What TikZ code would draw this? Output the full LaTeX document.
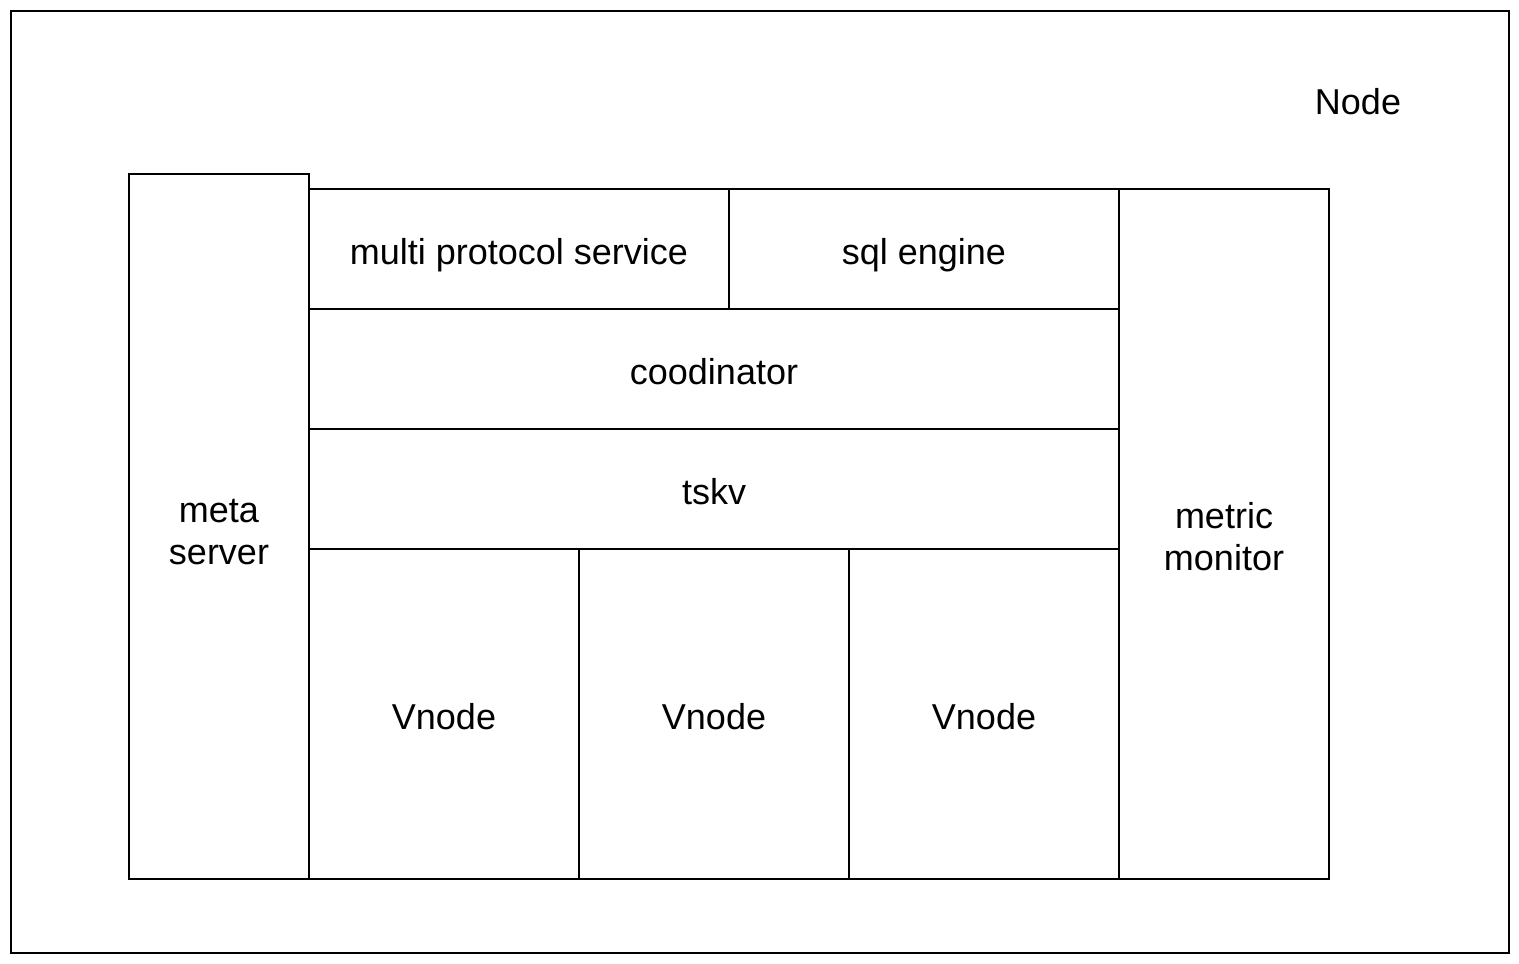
\documentclass[tikz,border=0pt]{standalone}
\usepackage{fontspec}
\setmainfont{Liberation Sans}
\begin{document}
\begin{tikzpicture}[x=1pt,y=-1pt,
  box/.style={draw=black, line width=2pt, fill=white, anchor=north west, inner sep=0pt},
  lbl/.style={font=\fontsize{36}{42}\selectfont, inner sep=0pt, text height=0.75em, text depth=0.25em},
  lbl2/.style={font=\fontsize{36}{42}\selectfont, inner sep=0pt, align=center}]
\useasboundingbox (0,0) rectangle (1519,964);
\node[box, minimum width=1498pt, minimum height=942pt] (outer) at (10,10) {};
\node[lbl] (nodelbl) at (1358,112) {Node};
\node[box, minimum width=180pt, minimum height=705pt] (meta) at (128,173) {};
\node[box, minimum width=420pt, minimum height=120pt] (mps) at (308,188) {};
\node[box, minimum width=390pt, minimum height=120pt] (sql) at (728,188) {};
\node[box, minimum width=810pt, minimum height=120pt] (coord) at (308,308) {};
\node[box, minimum width=810pt, minimum height=120pt] (tskv) at (308,428) {};
\node[box, minimum width=270pt, minimum height=330pt] (v1) at (308,548) {};
\node[box, minimum width=270pt, minimum height=330pt] (v2) at (578,548) {};
\node[box, minimum width=270pt, minimum height=330pt] (v3) at (848,548) {};
\node[box, minimum width=210pt, minimum height=690pt] (metric) at (1118,188) {};
\node[lbl2] (metaT) at ([yshift=-5.5pt]meta.center) {meta\\server};
\node[lbl] (mpsT) at ([yshift=-13pt]mps.center) {multi protocol service};
\node[lbl] (sqlT) at ([yshift=-13pt]sql.center) {sql engine};
\node[lbl] (coordT) at ([yshift=-13pt]coord.center) {coodinator};
\node[lbl] (tskvT) at ([yshift=-13pt]tskv.center) {tskv};
\node[lbl] (v1T) at ([yshift=-13pt]v1.center) {Vnode};
\node[lbl] (v2T) at ([yshift=-13pt]v2.center) {Vnode};
\node[lbl] (v3T) at ([yshift=-13pt]v3.center) {Vnode};
\node[lbl2] (metricT) at ([yshift=-3pt]metric.center) {metric\\monitor};
\end{tikzpicture}
\end{document}
